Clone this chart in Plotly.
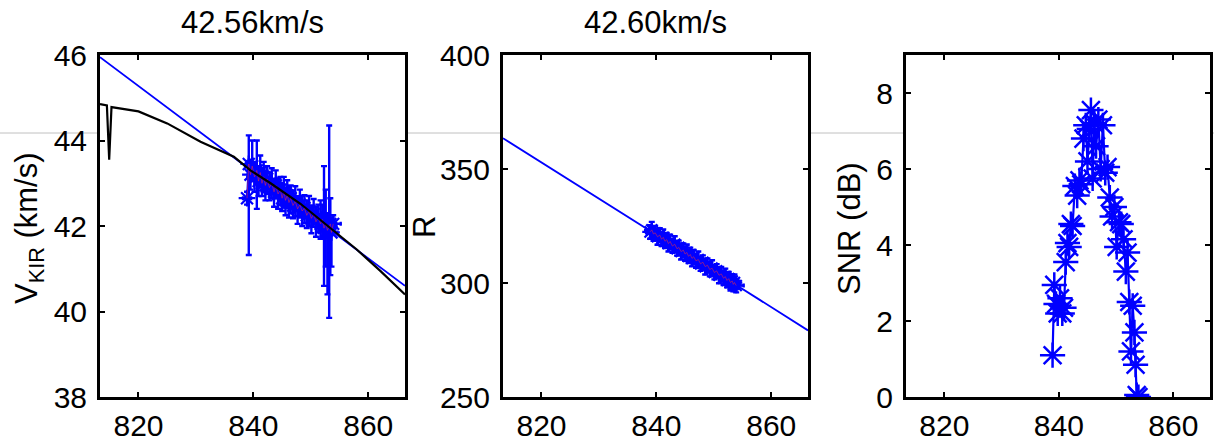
import plotly.graph_objects as go

# ---------------- data ----------------
# shared time axis of the measurements
X = [838.9, 839.2, 839.5, 839.8, 840.2, 840.6, 840.9, 841.2, 841.5, 841.8,
     842.1, 842.4, 842.8, 843.2, 843.6, 843.9, 844.3, 844.7, 845.0, 845.3,
     845.6, 845.9, 846.2, 846.5, 846.9, 847.3, 847.7, 848.1, 848.5, 848.9,
     849.3, 849.7, 850.1, 850.5, 850.9, 851.3, 851.7, 852.0, 852.3, 852.6,
     852.9, 853.2, 853.4, 853.6, 853.9]

# panel 1: velocity measurements with error bars
V = [42.65, 43.45, 43.20, 43.40, 43.15, 43.30, 43.05, 43.25, 43.00, 43.15,
     42.95, 43.10, 42.90, 43.00, 42.80, 42.95, 42.75, 42.85, 42.65, 42.80,
     42.60, 42.72, 42.55, 42.65, 42.48, 42.58, 42.40, 42.50, 42.35, 42.42,
     42.25, 42.35, 42.18, 42.28, 42.10, 42.20, 42.05, 42.15, 41.95, 42.05,
     41.90, 42.00, 42.05, 41.85, 42.05]
V_ep = [0.15, 0.67, 0.35, 0.60, 0.35, 0.70, 0.35, 0.40, 0.35, 0.35,
        0.35, 0.30, 0.35, 0.35, 0.30, 0.35, 0.35, 0.30, 0.35, 0.35,
        0.30, 0.35, 0.35, 0.30, 0.35, 0.35, 0.30, 0.35, 0.35, 0.30,
        0.35, 0.35, 0.30, 0.35, 0.35, 0.30, 0.55, 0.35, 1.45, 0.80,
        0.40, 2.35, 0.60, 0.35, 0.20]
V_em = [0.15, 2.13, 0.35, 0.35, 0.35, 0.90, 0.35, 0.35, 0.30, 0.35,
        0.35, 0.35, 0.30, 0.35, 0.35, 0.30, 0.35, 0.35, 0.30, 0.35,
        0.35, 0.30, 0.35, 0.35, 0.30, 0.35, 0.35, 0.30, 0.35, 0.35,
        0.30, 0.35, 0.35, 0.30, 0.35, 0.35, 0.35, 0.40, 1.35, 1.00,
        1.50, 2.15, 1.20, 0.80, 0.20]
V_xe = [0.7, 0.5, 0.5, 0.5, 0.5, 0.5, 0.5, 0.5, 0.5, 0.5,
        0.5, 0.5, 0.5, 0.5, 0.5, 0.5, 0.5, 0.5, 0.5, 0.5,
        0.5, 0.5, 0.5, 0.5, 0.5, 0.5, 0.5, 0.5, 0.5, 0.5,
        0.5, 0.5, 0.5, 0.5, 0.5, 0.5, 0.6, 0.6, 0.7, 0.7,
        0.8, 0.8, 1.0, 1.0, 1.3]

# panel 1: fitted velocity (blue) and reference velocity (black)
VFIT_X = [813.3, 818.0, 823.0, 828.0, 833.0, 838.0, 843.0, 848.0, 853.0, 858.0, 863.0, 866.4]
VFIT_Y = [45.95, 45.48, 44.97, 44.47, 43.96, 43.46, 42.95, 42.45, 41.94, 41.44, 40.94, 40.60]
VREF_X = [813.3, 814.5, 814.9, 815.3, 820.0, 825.0, 830.8, 836.6, 839.5, 843.0,
          848.2, 854.0, 858.0, 862.1, 866.4]
VREF_Y = [44.85, 44.82, 43.55, 44.78, 44.68, 44.40, 43.97, 43.62, 43.30, 43.00,
          42.52, 41.89, 41.45, 40.95, 40.40]

# panel 2: range
R = [322.4, 323.3, 321.5, 322.0, 320.3, 321.0, 319.2, 320.0, 318.3, 319.0,
     317.3, 318.2, 316.2, 317.0, 315.0, 315.6, 313.8, 314.4, 312.7, 313.4,
     311.7, 312.5, 310.8, 311.5, 309.7, 310.3, 308.4, 309.1, 307.2, 307.8,
     305.9, 306.5, 304.6, 305.3, 303.4, 304.0, 302.1, 302.8, 301.1, 301.9,
     300.2, 300.9, 299.4, 300.2, 298.9]
R_err = [3.0, 3.5, 3.0, 3.0, 3.5, 3.0, 3.0, 3.5, 3.0, 3.0,
         3.5, 3.0, 3.0, 3.5, 3.0, 3.0, 3.5, 3.0, 3.0, 3.5,
         3.0, 3.0, 3.5, 3.0, 3.0, 3.5, 3.0, 3.0, 3.5, 3.0,
         3.0, 3.5, 3.0, 3.0, 3.5, 3.0, 3.0, 3.5, 3.0, 3.0,
         3.5, 3.0, 3.0, 3.5, 3.0]
RFIT_X = [813.3, 818.0, 823.0, 828.0, 833.0, 838.0, 843.0, 848.0, 853.0, 858.0, 863.0, 866.4]
RFIT_Y = [363.5, 356.0, 348.1, 340.2, 332.2, 324.3, 316.4, 308.4, 300.5, 292.6, 284.6, 279.2]

# panel 3: SNR
SNR = [1.10, 2.95, 2.45, 2.20, 2.60, 2.20, 2.35, 3.55, 4.05, 3.95,
       4.55, 4.50, 5.55, 5.30, 5.70, 5.60, 6.80, 7.15, 6.20, 7.05,
       7.55, 5.75, 7.20, 6.60, 7.30, 6.00, 7.15, 5.90, 6.05, 5.25,
       4.75, 5.00, 3.95, 4.60, 4.55, 4.15, 3.30, 3.80, 2.50, 1.20,
       2.40, 1.70, 0.85, 0.05, 0.00]

TITLES = ["42.56km/s", "42.60km/s"]
XTICKS = [820, 840, 860]

# ---------------- layout geometry ----------------
W, H = 1214, 446
def px(x):
    return x / W
def py(y):
    return 1 - y / H

dom_x = [(px(100), px(405)), (px(503), px(808)), (px(906), px(1210))]
dom_y = (py(397), py(55))

BLUE = "#0000ff"
FONT = "Liberation Sans, Arial, Helvetica, sans-serif"

fig = go.Figure()

# panel 1
fig.add_trace(go.Scatter(x=VFIT_X, y=VFIT_Y, mode="lines", line=dict(color=BLUE, width=1.8),
                         xaxis="x", yaxis="y", showlegend=False))
fig.add_trace(go.Scatter(x=X, y=V, mode="lines+markers", xaxis="x", yaxis="y", showlegend=False,
                         line=dict(color=BLUE, width=2),
                         marker=dict(symbol="asterisk-open", size=14, line=dict(color=BLUE, width=2.2)),
                         error_y=dict(type="data", symmetric=False, array=V_ep, arrayminus=V_em,
                                      color=BLUE, thickness=2.4, width=3),
                         error_x=dict(type="data", array=V_xe, color=BLUE, thickness=2.4, width=2)))
fig.add_trace(go.Scatter(x=X, y=V, mode="lines", xaxis="x", yaxis="y", showlegend=False,
                         line=dict(color="#ff3030", width=0.5)))
fig.add_trace(go.Scatter(x=VREF_X, y=VREF_Y, mode="lines", line=dict(color="black", width=2.2),
                         xaxis="x", yaxis="y", showlegend=False))

# panel 2
fig.add_trace(go.Scatter(x=RFIT_X, y=RFIT_Y, mode="lines", line=dict(color=BLUE, width=1.8),
                         xaxis="x2", yaxis="y2", showlegend=False))
fig.add_trace(go.Scatter(x=X, y=R, mode="lines+markers", xaxis="x2", yaxis="y2", showlegend=False,
                         line=dict(color=BLUE, width=2),
                         marker=dict(symbol="asterisk-open", size=13, line=dict(color=BLUE, width=2.2)),
                         error_y=dict(type="data", array=R_err, color=BLUE, thickness=2.4, width=3),
                         error_x=dict(type="data", array=V_xe, color=BLUE, thickness=2.4, width=2)))
fig.add_trace(go.Scatter(x=X, y=R, mode="lines", xaxis="x2", yaxis="y2", showlegend=False,
                         line=dict(color="#ff3030", width=0.5)))

# panel 3
fig.add_trace(go.Scatter(x=X, y=SNR, mode="lines+markers", xaxis="x3", yaxis="y3", showlegend=False,
                         line=dict(color=BLUE, width=2.2),
                         marker=dict(symbol="asterisk-open", size=21, line=dict(color=BLUE, width=2.5))))

axis_common = dict(showline=True, linecolor="black", linewidth=3, mirror="allticks",
                   ticks="inside", ticklen=5, tickwidth=2, tickcolor="black",
                   showgrid=False, zeroline=False, automargin=False,
                   tickfont=dict(family=FONT, size=30, color="black"))

xr = [813.3, 866.4]
layout = dict(width=W, height=H, margin=dict(l=0, r=0, t=0, b=0, autoexpand=False),
              paper_bgcolor="white", plot_bgcolor="white", showlegend=False)
yranges = [[38, 46], [250, 400], [0, 9]]
ydticks = [2, 50, 2]
for i in range(3):
    sx = "" if i == 0 else str(i + 1)
    layout["xaxis" + sx] = dict(domain=list(dom_x[i]), range=xr, anchor="y" + sx,
                                tickmode="array", tickvals=XTICKS, ticklabelstandoff=0,
                                **axis_common)
    layout["yaxis" + sx] = dict(domain=list(dom_y), range=yranges[i], anchor="x" + sx,
                                tick0=0, dtick=ydticks[i], ticklabelstandoff=4,
                                **axis_common)
fig.update_layout(**layout)

# titles
title_font = dict(family=FONT, size=31, color="black")
for i, t in enumerate(TITLES):
    cx = (dom_x[i][0] + dom_x[i][1]) / 2
    fig.add_annotation(text=t, x=cx, y=py(22), xref="paper", yref="paper",
                       showarrow=False, font=title_font, xanchor="center", yanchor="middle")

# y axis labels
lab_font = dict(family=FONT, size=31, color="black")
fig.add_annotation(text="V<sub>KIR</sub> (km/s)", x=px(29), y=py(228), xref="paper", yref="paper",
                   showarrow=False, textangle=-90, font=lab_font, xanchor="center", yanchor="middle")
fig.add_annotation(text="R", x=px(424), y=py(227), xref="paper", yref="paper",
                   showarrow=False, textangle=-90, font=lab_font, xanchor="center", yanchor="middle")
fig.add_annotation(text="SNR (dB)", x=px(849), y=py(229), xref="paper", yref="paper",
                   showarrow=False, textangle=-90, font=lab_font, xanchor="center", yanchor="middle")

# thin gray horizontal line visible between the panels
for a, b in [(0, 100), (405, 503), (808, 906), (1210, 1214)]:
    fig.add_shape(type="line", xref="paper", yref="paper", x0=px(a), x1=px(b),
                  y0=py(133), y1=py(133), line=dict(color="#c0c0c0", width=1), layer="below")

fig.write_html("out.html")
